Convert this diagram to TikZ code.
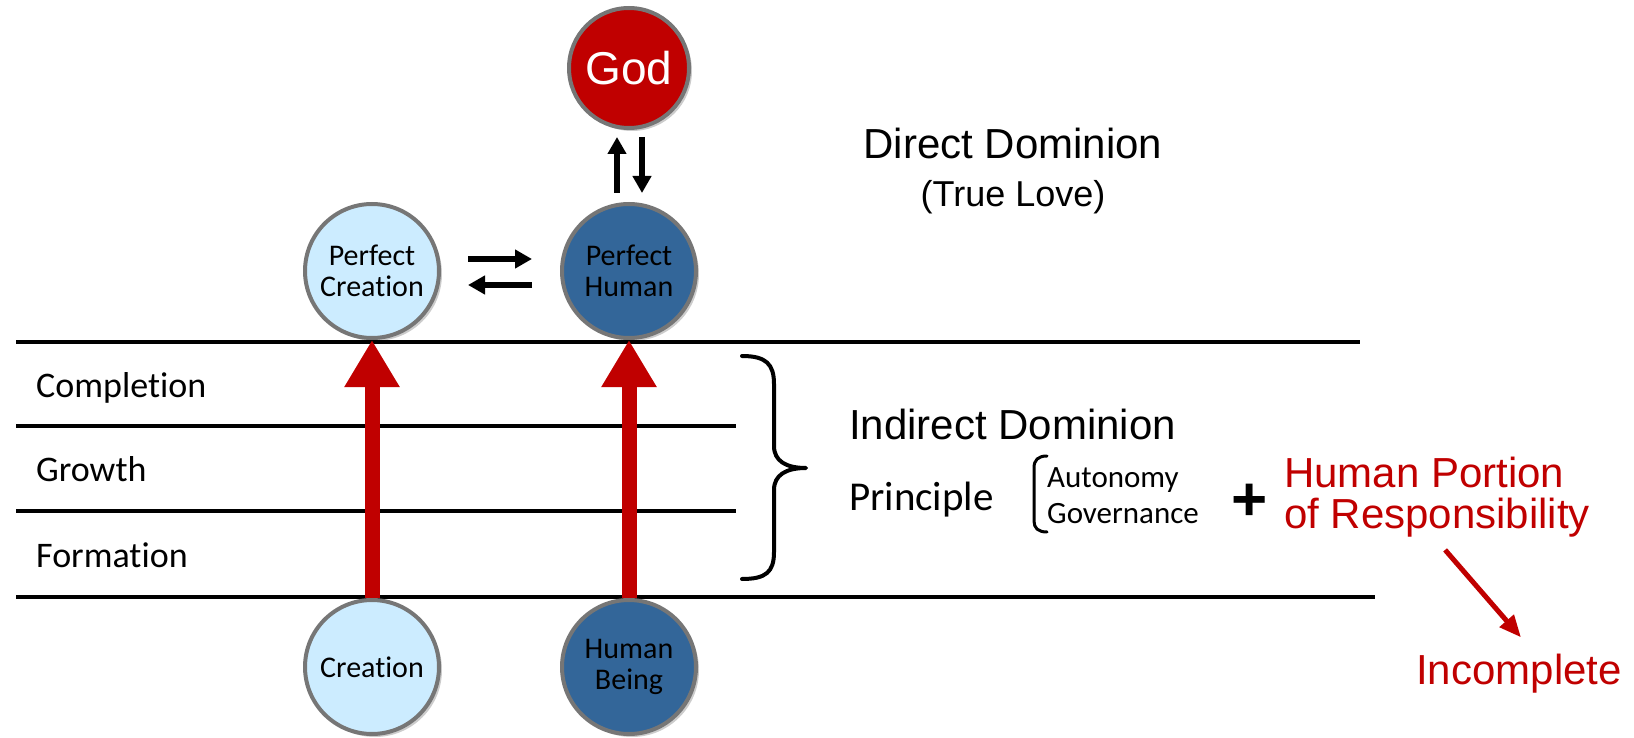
\documentclass[tikz,border=0pt]{standalone}
\usepackage{fontspec}
\setmainfont{Carlito}[RawFeature={-liga;-clig;-dlig;-calt}]
\newfontfamily\arialf{Liberation Sans}
\usetikzlibrary{arrows.meta,shadows}
\definecolor{godred}{RGB}{192,0,0}
\definecolor{darkblue}{RGB}{51,102,153}
\definecolor{lightblue}{RGB}{204,236,255}
\definecolor{rimgray}{RGB}{118,118,118}
\begin{document}
\begin{tikzpicture}[x=1pt,y=-1pt,
  circ/.style={circle, draw=rimgray, line width=4pt, inner sep=0pt, minimum size=134pt,
    align=center, font=\fontsize{30}{31}\selectfont, text=black,
    drop shadow={shadow xshift=3pt, shadow yshift=-3pt, opacity=0.2, fill=black}},
  light/.style={circ, fill=lightblue},
  dark/.style={circ, fill=darkblue},
  godc/.style={circ, fill=godred, minimum size=120pt, text=white, font=\arialf\fontsize{46}{50}\selectfont},
  rule/.style={line width=4.5pt, black},
  redarrow/.style={godred, line width=15pt, -{Triangle[width=52pt,length=47pt]}},
  blk/.style={black, line width=6pt, -{Triangle[width=18pt,length=17pt]}},
  stage/.style={anchor=base west, inner sep=0pt, font=\fontsize{36}{40}\selectfont},
  big/.style={inner sep=0pt, font=\arialf\fontsize{42}{46}\selectfont},
  mid/.style={inner sep=0pt, font=\arialf\fontsize{36}{40}\selectfont},
  small/.style={anchor=base west, inner sep=0pt, font=\fontsize{31}{35}\selectfont},
  redtxt/.style={big, text=godred},
  bracestyle/.style={line width=4pt, black, line cap=round, line join=round}
]
\useasboundingbox (0,0) rectangle (1634,738);

% horizontal rules
\draw[rule] (16,342) -- (1360,342);
\draw[rule] (16,426) -- (736,426);
\draw[rule] (16,511) -- (736,511);
\draw[rule] (16,597) -- (1375,597);

% stage labels
\node[stage] (completion) at (36,397) {Completion};
\node[stage] (growth) at (36,481) {Growth};
\node[stage] (formation) at (36,567) {Formation};

% circles
\node[godc] (god) at (629,68) {God};
\node[light] (pc) at (372,271) {Perfect\\Creation};
\node[dark] (ph) at (629,271) {Perfect\\Human};
\node[light] (cr) at (372,667) {Creation};
\node[dark] (hb) at (629,667) {Human\\Being};

% red growth arrows
\draw[redarrow] (cr.north) -- (pc.south);
\draw[redarrow] (hb.north) -- (ph.south);

% black give-and-take arrows
\draw[blk] ([xshift=27pt,yshift=12pt]pc.east) -- ([xshift=-28pt,yshift=12pt]ph.west);
\draw[blk] ([xshift=-28pt,yshift=-14pt]ph.west) -- ([xshift=27pt,yshift=-14pt]pc.east);
\draw[blk] ([xshift=-12pt,yshift=9pt]ph.north) -- ([xshift=-12pt,yshift=-7pt]god.south);
\draw[blk] ([xshift=13pt,yshift=-7pt]god.south) -- ([xshift=13pt,yshift=9pt]ph.north);

% right texts
\node[big, anchor=base] (dd) at (1013,159) {Direct Dominion};
\node[mid, anchor=base] (tl) at (1013,207) {(True Love)};
\node[big, anchor=base west] (idd) at (849,439) {Indirect Dominion};
\node[anchor=base west, inner sep=0pt, font=\fontsize{41}{45}\selectfont] (pr) at (849,510) {Principle};
\node[small] (auto) at (1047,487) {Autonomy};
\node[small] (gov) at (1047,523) {Governance};
\node[inner sep=0pt, font=\arialf\bfseries\fontsize{62}{66}\selectfont] (plus) at (1250,502) {+};
\node[redtxt, anchor=base west] (hp) at (1284,487) {Human Portion};
\node[redtxt, anchor=base west] (resp) at (1284,528) {of Responsibility};
\node[redtxt, anchor=base] (inc) at (1519,684) {Incomplete};

% red arrow to Incomplete
\draw[godred, line width=5pt, -{Triangle[width=18pt,length=22pt]}]
  ([xshift=8pt,yshift=-13pt]resp.south) -- ([xshift=2pt,yshift=16pt]inc.north);

% big brace
\draw[bracestyle] (742,356) .. controls (766,356) and (774,364) .. (774,384)
  -- (774,446) .. controls (774,461) and (786,468) .. (806,468)
  .. controls (786,468) and (774,475) .. (774,490)
  -- (774,552) .. controls (774,572) and (766,579) .. (742,579);

% small bracket
\draw[line width=3pt, black, line cap=round] (1047,456) .. controls (1038,456) and (1034,460) .. (1034,468)
  -- (1034,521) .. controls (1034,528) and (1038,532) .. (1047,532);
\end{tikzpicture}
\end{document}
